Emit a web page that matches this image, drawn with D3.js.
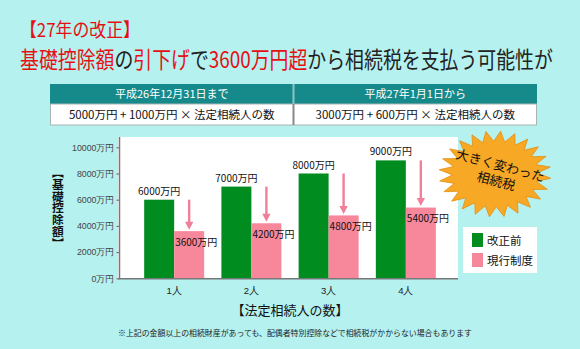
<!DOCTYPE html>
<html><head><meta charset="utf-8">
<script src="https://cdn.jsdelivr.net/npm/d3@7"></script>
<style>
body{margin:0;background:#b5f1ef;}
svg{display:block;font-family:"Noto Sans CJK JP","Noto Sans",sans-serif;}
</style>
</head><body><svg id="c" width="580" height="349"></svg>
<script>
// ---- data ----
const categories = ["1人", "2人", "3人", "4人"];
const seriesNames = ["改正前", "現行制度"];
const beforeValues = [6000, 7000, 8000, 9000];
const afterValues = [3600, 4200, 4800, 5400];
const yTicks = [0, 2000, 4000, 6000, 8000, 10000];
const unit = "万円";
const titleLine1 = "【27年の改正】";
const titleLine2 = [["基礎控除額", true], ["の", false], ["引下げ", true], ["で", false], ["3600万円超", true], ["から相続税を支払う可能性が", false]];
const tableHeaders = ["平成26年12月31日まで", "平成27年1月1日から"];
const tableFormulas = ["5000万円 + 1000万円 × 法定相続人の数", "3000万円 + 600万円 × 法定相続人の数"];
const yTitle = "【基礎控除額】";
const xTitle = "【法定相続人の数】";
const badgeLines = ["大きく変わった", "相続税"];
const footnote = "※上記の金額以上の相続財産があっても、配偶者特別控除などで相続税がかからない場合もあります";

// ---- styles ----
const BG = "#b5f1ef", GREEN = "#008c1f", PINK = "#f7879b", ARROW = "#f0809a", RED = "#e60f12", TEAL = "#168a8b";
const svg = d3.select("#c");
svg.append("rect").attr("width", 580).attr("height", 349).attr("fill", BG);

// fit a text element horizontally to a target width by scaling
function fitWidth(g, node, x0, yBase, target) {
  const w = node.getComputedTextLength();
  g.attr("transform", `translate(${x0},${yBase}) scale(${target / w},1)`);
}

// titles
const g1 = svg.append("g");
const t1 = g1.append("text").attr("x", 0).attr("y", 0).attr("font-size", 19).attr("fill", RED).text(titleLine1);
fitWidth(g1, t1.node(), 20, 37, 120);
const g2 = svg.append("g");
const t2 = g2.append("text").attr("x", 0).attr("y", 0).attr("font-size", 22.5);
titleLine2.forEach(([s, red]) => t2.append("tspan").attr("fill", red ? RED : "#222").text(s));
fitWidth(g2, t2.node(), 20, 68, 533);

// table
const tx = d3.scaleBand().domain([0, 1]).range([50, 537]);
svg.append("rect").attr("x", 50).attr("y", 84).attr("width", 487).attr("height", 20).attr("fill", TEAL);
svg.append("rect").attr("x", 50.5).attr("y", 104).attr("width", 486).attr("height", 21).attr("fill", "#fff")
  .attr("stroke", "#a9b3b3").attr("stroke-width", 1);
svg.append("line").attr("x1", tx(1)).attr("x2", tx(1)).attr("y1", 84).attr("y2", 104).attr("stroke", "#8cc4c4").attr("stroke-width", 2);
svg.append("line").attr("x1", tx(1)).attr("x2", tx(1)).attr("y1", 104).attr("y2", 125).attr("stroke", "#888").attr("stroke-width", 2);
tableHeaders.forEach((h, i) => svg.append("text").attr("x", tx(i) + tx.bandwidth() / 2).attr("y", 98)
  .attr("text-anchor", "middle").attr("font-size", 11).attr("fill", "#fff").text(h));
tableFormulas.forEach((h, i) => svg.append("text").attr("x", tx(i) + tx.bandwidth() / 2).attr("y", 119)
  .attr("text-anchor", "middle").attr("font-size", 11.5).attr("fill", "#111").text(h));

// plot
svg.append("rect").attr("x", 118).attr("y", 137).attr("width", 340).attr("height", 142).attr("fill", "#fff");
const x = d3.scaleBand().domain(categories).range([121, 459]).paddingInner(0.223).paddingOuter(0.3);
const xs = d3.scaleBand().domain(seriesNames).range([0, x.bandwidth()]);
const y = d3.scaleLinear().domain([0, 10000]).range([278.3, 147.3]);

const yAxis = svg.append("g").attr("transform", "translate(119.5,0)")
  .call(d3.axisLeft(y).tickValues(yTicks).tickSize(3).tickPadding(2).tickFormat(d => d + unit));
yAxis.select(".domain").remove();
yAxis.selectAll("line").attr("stroke", "#666");
yAxis.selectAll("text").attr("font-size", 8.8).attr("fill", "#444").attr("font-family", "inherit");

const xAxis = svg.append("g").attr("transform", "translate(0,279)")
  .call(d3.axisBottom(x).tickSize(0).tickPadding(8));
xAxis.select(".domain").remove();
xAxis.selectAll("text").attr("font-size", 9.5).attr("fill", "#222").attr("font-family", "inherit");

const groups = svg.append("g").selectAll("g").data(categories).join("g")
  .attr("transform", d => `translate(${x(d)},0)`);
groups.append("rect").attr("x", xs(seriesNames[0])).attr("width", xs.bandwidth())
  .attr("y", (d, i) => y(beforeValues[i])).attr("height", (d, i) => y(0) - y(beforeValues[i])).attr("fill", GREEN);
groups.append("rect").attr("x", xs(seriesNames[1])).attr("width", xs.bandwidth())
  .attr("y", (d, i) => y(afterValues[i])).attr("height", (d, i) => y(0) - y(afterValues[i])).attr("fill", PINK);

// axis lines
svg.append("line").attr("x1", 119.5).attr("x2", 119.5).attr("y1", 137).attr("y2", 279).attr("stroke", "#777").attr("stroke-width", 1.5);
svg.append("line").attr("x1", 118).attr("x2", 458).attr("y1", 278.8).attr("y2", 278.8).attr("stroke", "#777").attr("stroke-width", 1.6);

// arrows
groups.each(function (d, i) {
  const g = d3.select(this);
  const cx = xs(seriesNames[1]) + xs.bandwidth() / 2;
  const top = y(beforeValues[i]), tip = y(afterValues[i]) - 1.5;
  g.append("line").attr("x1", cx).attr("x2", cx).attr("y1", top).attr("y2", tip - 6)
    .attr("stroke", ARROW).attr("stroke-width", 2.4);
  g.append("path").attr("d", d3.line()([[cx - 4.2, tip - 8], [cx + 4.2, tip - 8], [cx, tip]]) + "Z").attr("fill", ARROW);
});

// value labels
groups.append("text").attr("x", xs(seriesNames[0]) + xs.bandwidth() / 2).attr("y", (d, i) => y(beforeValues[i]) - 5)
  .attr("text-anchor", "middle").attr("font-size", 10).attr("fill", "#111").text((d, i) => beforeValues[i] + unit);
groups.append("text").attr("x", xs(seriesNames[1]) + 1).attr("y", (d, i) => y(afterValues[i]) + 14.5)
  .attr("font-size", 10).attr("fill", "#111").text((d, i) => afterValues[i] + unit);

// y title (vertical)
svg.append("text").attr("x", 58).attr("y", 208).attr("text-anchor", "middle")
  .style("writing-mode", "vertical-rl").attr("font-size", 11.8).attr("font-weight", "bold").attr("fill", "#111").text(yTitle);

// x title
svg.append("text").attr("x", 290).attr("y", 315).attr("text-anchor", "middle").attr("font-size", 13)
  .attr("fill", "#111").text(xTitle);

// footnote
svg.append("text").attr("x", 295).attr("y", 336).attr("text-anchor", "middle").attr("font-size", 7.9)
  .attr("fill", "#222").text(footnote);

// legend
svg.append("rect").attr("x", 463).attr("y", 227).attr("width", 74).attr("height", 46).attr("fill", "#fff");
const lg = svg.append("g").selectAll("g").data(seriesNames).join("g")
  .attr("transform", (d, i) => `translate(472,${233 + i * 20})`);
lg.append("rect").attr("width", 11).attr("height", 14).attr("fill", (d, i) => i ? PINK : GREEN);
lg.append("text").attr("x", 15).attr("y", 11.5).attr("font-size", 11.5).attr("fill", "#111").text(d => d);

// starburst badge
const nPts = 24, cxB = 495, cyB = 174;
const star = d3.range(nPts * 2).map(k => {
  const a = Math.PI * k / nPts + 0.1;
  const r = k % 2 === 0 ? 1 : 0.76;
  return [cxB + 56 * r * Math.cos(a), cyB + 43 * r * Math.sin(a)];
});
svg.append("path").attr("d", d3.line()(star) + "Z").attr("fill", "#f7a824").attr("stroke", "#e38e12").attr("stroke-width", 0.8);
const bt = svg.append("g").attr("transform", `translate(${cxB + 3},${cyB}) rotate(15)`);
bt.append("text").attr("x", 0).attr("y", -4).attr("text-anchor", "middle").attr("font-size", 13).attr("fill", "#111").text(badgeLines[0]);
bt.append("text").attr("x", 0).attr("y", 12).attr("text-anchor", "middle").attr("font-size", 13).attr("fill", "#111").text(badgeLines[1]);
</script>
</body></html>
